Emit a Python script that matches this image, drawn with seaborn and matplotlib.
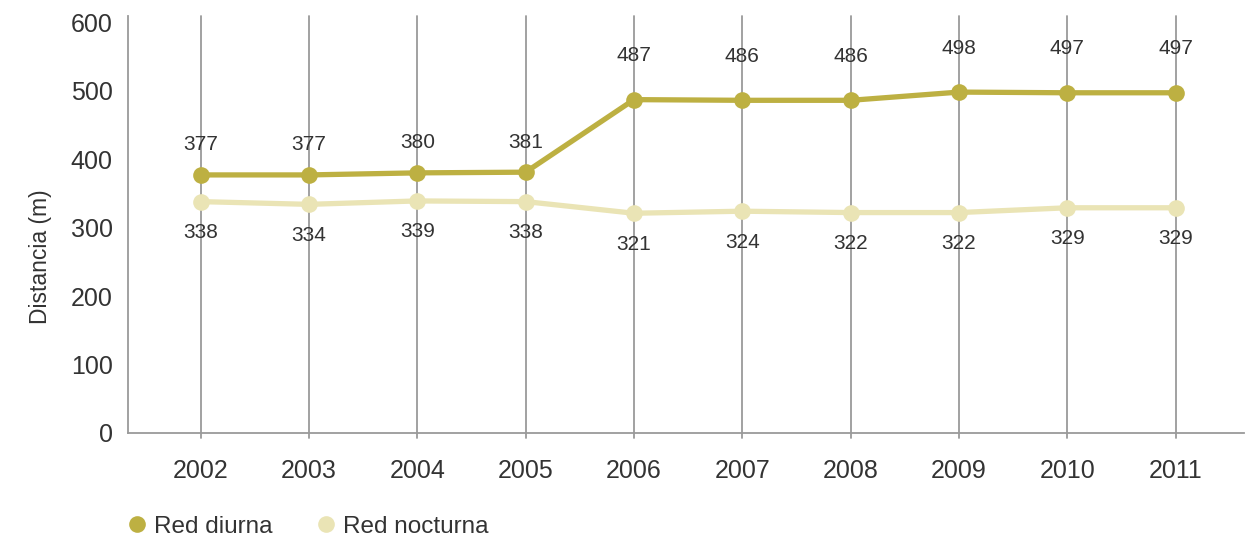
import matplotlib
matplotlib.use("Agg")
import matplotlib.pyplot as plt
from matplotlib.lines import Line2D
import seaborn as sns
import pandas as pd

years = ["2002", "2003", "2004", "2005", "2006", "2007", "2008", "2009", "2010", "2011"]
red_diurna = [377, 377, 380, 381, 487, 486, 486, 498, 497, 497]
red_nocturna = [338, 334, 339, 338, 321, 324, 322, 322, 329, 329]
series_names = ["Red diurna", "Red nocturna"]
y_ticks = [0, 100, 200, 300, 400, 500, 600]

col_day = "#BDB042"
col_night = "#EAE4B5"
text_col = "#333333"
grid_col = "#9a9a9a"

sns.set_theme(style="white")
plt.rcParams["font.family"] = ["Liberation Sans", "DejaVu Sans"]

df = pd.DataFrame({
    "pos": list(range(len(years))) * 2,
    "valor": red_diurna + red_nocturna,
    "serie": [series_names[0]] * len(years) + [series_names[1]] * len(years),
})

fig = plt.figure(figsize=(12.52, 5.37), dpi=100)
ax = fig.add_axes([0.1022, 0.1937, 0.8914, 0.7763])

# vertical guide lines at each year
for i in range(len(years)):
    ax.axvline(i, color=grid_col, lw=1.3, zorder=0, ymin=-0.012, clip_on=False)

sns.lineplot(data=df, x="pos", y="valor", hue="serie",
             palette={series_names[0]: col_day, series_names[1]: col_night},
             hue_order=[series_names[1], series_names[0]],
             marker="o", markersize=12, markeredgewidth=0, linewidth=3.8,
             legend=False, ax=ax, zorder=3)

for i, v in enumerate(red_diurna):
    off = 30 if v < 450 else 44
    ax.annotate(str(v), (i, v), xytext=(0, off), textcoords="offset pixels",
                ha="center", va="center", fontsize=15, color=text_col)
for i, v in enumerate(red_nocturna):
    ax.annotate(str(v), (i, v), xytext=(0, -31), textcoords="offset pixels",
                ha="center", va="center", fontsize=15, color=text_col)

ax.set_xlim(-0.67, 9.63)
ax.set_ylim(0, 609)
ax.set_xticks(range(len(years)))
ax.set_xticklabels(years)
ax.set_yticks(y_ticks)
ax.tick_params(axis="x", length=0, pad=19, labelsize=18, labelcolor=text_col)
ax.tick_params(axis="y", length=0, pad=11, labelsize=18, labelcolor=text_col)
ax.set_xlabel("")
ax.set_ylabel("Distancia (m)", fontsize=16.5, color=text_col)
ax.yaxis.set_label_coords(-0.068, 0.424)

for s in ["top", "right"]:
    ax.spines[s].set_visible(False)
for s in ["left", "bottom"]:
    ax.spines[s].set_color(grid_col)
    ax.spines[s].set_linewidth(1.3)

handles = [Line2D([], [], marker="o", ls="none", markersize=12, markeredgewidth=0, color=col_day),
           Line2D([], [], marker="o", ls="none", markersize=12, markeredgewidth=0, color=col_night)]
fig.legend(handles, series_names, loc="lower left", bbox_to_anchor=(0.0823, -0.0425),
           ncol=2, frameon=False, fontsize=17.5, handlelength=1.0, handletextpad=0.2,
           columnspacing=1.7, labelcolor=text_col)

fig.savefig("out.png", dpi=100)
